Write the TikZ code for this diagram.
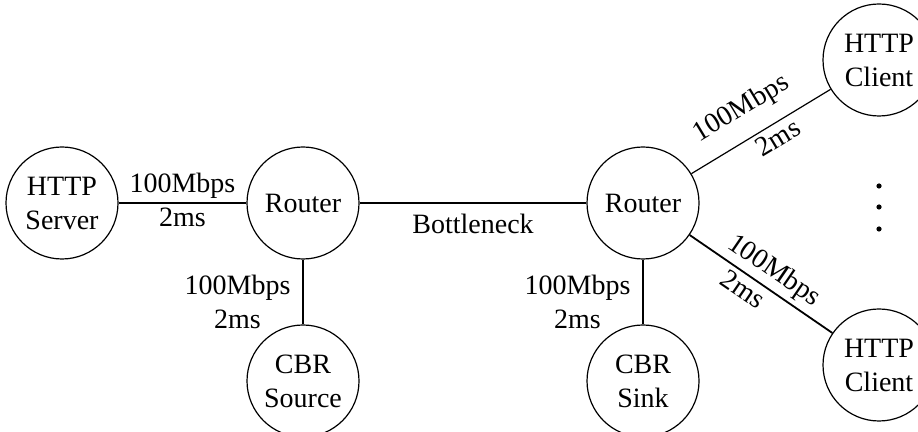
\documentclass[tikz,border=0pt]{standalone}
\usepackage{fontspec}
\setmainfont{Liberation Serif}
\begin{document}
\tikzset{
    host/.style={draw, circle, line width=0.6pt, minimum size=56pt, inner sep=0pt, align=center},
    link/.style={line width=0.6pt},
    lbl/.style={inner sep=2pt, align=center}
}
\begin{tikzpicture}[x=50pt, y=50pt, font=\fontsize{14}{17}\selectfont]
        \useasboundingbox (0,0) rectangle (9.18,4.32);

        \draw (0.62,2.29) node[host] (server) {HTTP\\Server};
        \draw (3.03,2.29) node[host] (r1) {Router};
        \draw (6.43,2.29) node[host] (r2) {Router};
        \draw (3.03,0.51) node[host] (src) {CBR\\Source};
        \draw (6.43,0.51) node[host] (sink) {CBR\\Sink};
        \draw (8.79,3.72) node[host] (c1) {HTTP\\Client};
        \draw (8.79,0.67) node[host] (c2) {HTTP\\Client};

        \draw[link] (server) -- (r1) node[midway, above, lbl] {100Mbps} node[midway, below, lbl] {2ms};
        \draw[link] (r1) -- (r2) node[midway, below, lbl, yshift=-3pt] {Bottleneck};
        \draw[link] (r1) -- (src) node[midway, left, lbl, xshift=-4pt, yshift=-5pt] {100Mbps\\2ms};
        \draw[link] (r2) -- (sink) node[midway, left, lbl, xshift=-4pt, yshift=-5pt] {100Mbps\\2ms};
        \draw[link] (r2) -- (c1) node[pos=0.47, sloped, above=6pt, lbl] {100Mbps} node[pos=0.57, sloped, below, lbl] {2ms};
        \draw[link, line width=0.9pt] (r2) -- (c2) node[pos=0.52, sloped, above, lbl] {100Mbps} node[pos=0.43, sloped, below, lbl] {2ms};

        % more clients
        \fill (8.79,2.46) circle (1.3pt);
        \fill (8.79,2.25) circle (1.3pt);
        \fill (8.79,2.03) circle (1.3pt);
    \end{tikzpicture}
\end{document}
